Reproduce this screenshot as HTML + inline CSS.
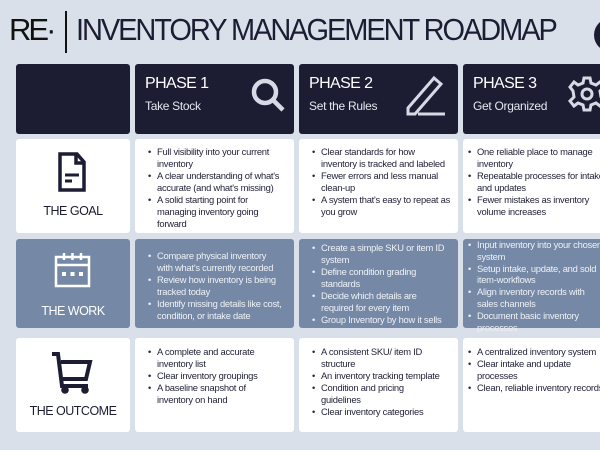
<!DOCTYPE html>
<html><head><meta charset="utf-8"><style>
*{margin:0;padding:0;box-sizing:border-box}
body{width:600px;height:450px;overflow:hidden;background:#d9e0ea;position:relative;font-family:"Liberation Sans",sans-serif}
.b{position:absolute;border-radius:3px}
.d{background:#1c1c33}
.w{background:#fff}
.s{background:#7589a6}
.t{position:absolute;font-size:9.4px;letter-spacing:-0.25px;line-height:12px;color:#23233a}
.s .t{color:#eef1f6}
.t div{position:relative;padding-left:11px}
.t div:before{content:"•";position:absolute;left:2px}
.ph{position:absolute;left:10px;top:11px;color:#fff;font-size:16px;letter-spacing:-0.6px}
.sub{position:absolute;left:10px;top:35px;color:#e6e8ee;font-size:12px;letter-spacing:-0.3px}
.lab{position:absolute;width:100%;text-align:center;font-size:12.5px;letter-spacing:-0.5px;color:#1c1c33}
svg{position:absolute}
</style></head><body>
<div style="position:absolute;left:9px;top:12px;font-size:31px;letter-spacing:-3px;color:#111">RE·</div>
<div style="position:absolute;left:65px;top:11px;width:1.5px;height:42px;background:#111"></div>
<div style="position:absolute;left:76px;top:12px;font-size:31px;letter-spacing:-2.2px;color:#1c1c33;white-space:nowrap;transform:scaleX(0.935);transform-origin:left">INVENTORY MANAGEMENT ROADMAP</div>
<div style="position:absolute;left:594px;top:18px;width:34px;height:34px;border-radius:50%;background:#1c1c33"></div>

<div class="b d" style="left:16px;top:64px;width:114px;height:70px"></div>
<div class="b d" style="left:135px;top:64px;width:159px;height:70px"><div class="ph">PHASE 1</div><div class="sub">Take Stock</div>
<svg style="left:114px;top:12px" width="38" height="36"><circle cx="16" cy="16" r="11" fill="none" stroke="#d6dae4" stroke-width="4.5"/><line x1="24" y1="24" x2="34" y2="34" stroke="#d6dae4" stroke-width="4.5"/></svg></div>
<div class="b d" style="left:299px;top:64px;width:159px;height:70px"><div class="ph">PHASE 2</div><div class="sub">Set the Rules</div>
<svg style="left:105px;top:10px" width="48" height="44"><path d="M4 34 L30 4 L37 10 L11 40 L4 40 Z" fill="none" stroke="#d6dae4" stroke-width="3"/><line x1="14" y1="40" x2="41" y2="40" stroke="#d6dae4" stroke-width="3"/></svg></div>
<div class="b d" style="left:463px;top:64px;width:150px;height:70px"><div class="ph">PHASE 3</div><div class="sub">Get Organized</div>
<svg style="left:104px;top:10px" width="40" height="40"><g transform="translate(20,20)" fill="none" stroke="#d6dae4" stroke-width="3"><path d="M-3 -16 L3 -16 L4 -11 L9 -9 L13 -12 L17 -7 L13 -3 L14 3 L17 7 L13 12 L9 9 L4 11 L3 16 L-3 16 L-4 11 L-9 9 L-13 12 L-17 7 L-13 3 L-14 -3 L-17 -7 L-13 -12 L-9 -9 L-4 -11 Z"/><circle r="5"/></g></svg></div>

<div class="b w" style="left:16px;top:139px;width:114px;height:94px">
<svg style="left:41px;top:12px" width="30" height="42"><path d="M3 3 L20 3 L27 11 L27 39 L3 39 Z" fill="none" stroke="#1c1c33" stroke-width="3.5"/><path d="M19 3 L19 12 L27 12" fill="none" stroke="#1c1c33" stroke-width="3.5"/><line x1="8" y1="24" x2="22" y2="24" stroke="#1c1c33" stroke-width="3"/><line x1="8" y1="30" x2="15" y2="30" stroke="#1c1c33" stroke-width="3"/></svg>
<div class="lab" style="top:65px">THE GOAL</div></div>
<div class="b w" style="left:135px;top:139px;width:159px;height:94px"><div class="t" style="left:11px;top:7px">
<div>Full visibility into your current<br>inventory</div><div>A clear understanding of what's<br>accurate (and what's missing)</div><div>A solid starting point for<br>managing inventory going<br>forward</div></div></div>
<div class="b w" style="left:299px;top:139px;width:159px;height:94px"><div class="t" style="left:11px;top:7px">
<div>Clear standards for how<br>inventory is tracked and labeled</div><div>Fewer errors and less manual<br>clean-up</div><div>A system that's easy to repeat as<br>you grow</div></div></div>
<div class="b w" style="left:463px;top:139px;width:150px;height:94px"><div class="t" style="left:3px;top:7px">
<div>One reliable place to manage<br>inventory</div><div>Repeatable processes for intake<br>and updates</div><div>Fewer mistakes as inventory<br>volume increases</div></div></div>

<div class="b s" style="left:16px;top:239px;width:114px;height:89px">
<svg style="left:37px;top:12px" width="40" height="38"><rect x="3" y="6" width="33" height="29" fill="none" stroke="#fff" stroke-width="2.5"/><line x1="3" y1="14" x2="36" y2="14" stroke="#fff" stroke-width="2.5"/><g stroke="#fff" stroke-width="2.5"><line x1="11" y1="2" x2="11" y2="9"/><line x1="19.5" y1="2" x2="19.5" y2="9"/><line x1="28" y1="2" x2="28" y2="9"/></g><g fill="#fff"><rect x="9" y="21" width="4" height="4"/><rect x="17.5" y="21" width="4" height="4"/><rect x="26" y="21" width="4" height="4"/></g></svg>
<div class="lab" style="top:65px;color:#fff">THE WORK</div></div>
<div class="b s" style="left:135px;top:239px;width:159px;height:89px"><div class="t" style="left:11px;top:11px">
<div>Compare physical inventory<br>with what's currently recorded</div><div>Review how inventory is being<br>tracked today</div><div>Identify missing details like cost,<br>condition, or intake date</div></div></div>
<div class="b s" style="left:299px;top:239px;width:159px;height:89px"><div class="t" style="left:11px;top:3px">
<div>Create a simple SKU or item ID<br>system</div><div>Define condition grading<br>standards</div><div>Decide which details are<br>required for every item</div><div>Group Inventory by how it sells</div></div></div>
<div class="b s" style="left:463px;top:239px;width:150px;height:89px"><div class="t" style="left:3px;top:0px;line-height:11.8px">
<div>Input inventory into your chosen<br>system</div><div>Setup intake, update, and sold<br>item-workflows</div><div>Align inventory records with<br>sales channels</div><div>Document basic inventory<br>processes</div></div></div>

<div class="b w" style="left:16px;top:338px;width:114px;height:94px">
<svg style="left:34px;top:12px" width="46" height="44"><path d="M2 4 L8 4 L12 36 L38 36" fill="none" stroke="#1c1c33" stroke-width="4"/><path d="M11 12 L40 12 L36 29 L13 29" fill="none" stroke="#1c1c33" stroke-width="4"/><circle cx="15" cy="40" r="3.8" fill="#1c1c33"/><circle cx="35" cy="40" r="3.8" fill="#1c1c33"/></svg>
<div class="lab" style="top:66px">THE OUTCOME</div></div>
<div class="b w" style="left:135px;top:338px;width:159px;height:94px"><div class="t" style="left:11px;top:8px">
<div>A complete and accurate<br>inventory list</div><div>Clear inventory groupings</div><div>A baseline snapshot of<br>inventory on hand</div></div></div>
<div class="b w" style="left:299px;top:338px;width:159px;height:94px"><div class="t" style="left:11px;top:8px">
<div>A consistent SKU/ item ID<br>structure</div><div>An inventory tracking template</div><div>Condition and pricing<br>guidelines</div><div>Clear inventory categories</div></div></div>
<div class="b w" style="left:463px;top:338px;width:150px;height:94px"><div class="t" style="left:3px;top:8px">
<div>A centralized inventory system</div><div>Clear intake and update<br>processes</div><div>Clean, reliable inventory records</div></div></div>
</body></html>
